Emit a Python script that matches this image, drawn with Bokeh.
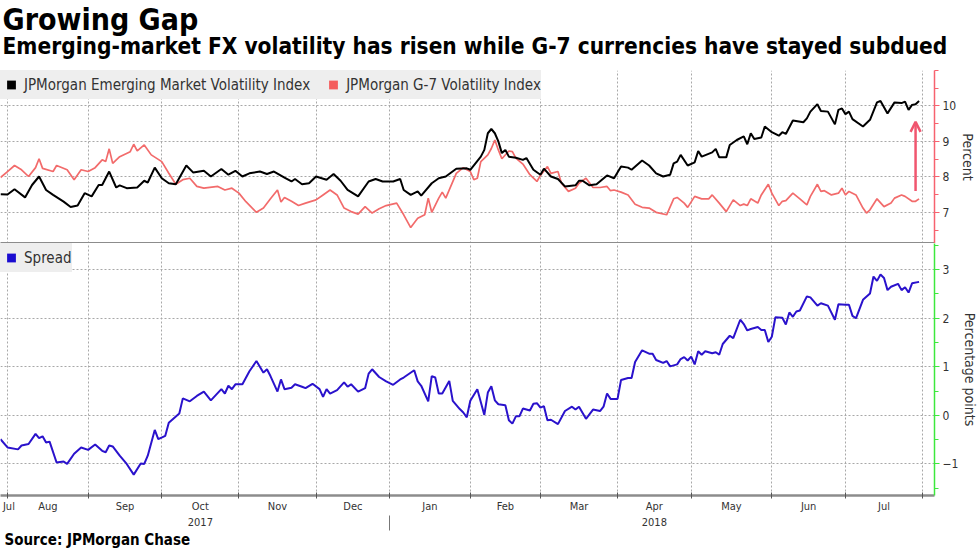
import numpy as np
import pandas as pd
from bokeh.plotting import figure
from bokeh.models import (Range1d, FixedTicker, LinearAxis, Legend, LegendItem, Title,
                          Arrow, OpenHead)
from bokeh.layouts import column
from bokeh.embed import file_html
from bokeh.resources import INLINE

# ---------------- data (x = business-day number counted from 2017-07-28) ----------------
EM_DAY = [0, 2, 4, 7, 9, 11, 13, 15, 18, 20, 22, 24, 26, 28, 29, 31, 33, 34, 36, 39, 41, 42, 44, 46, 48,
          50, 53, 55, 58, 60, 63, 65, 67, 69, 71, 74, 76, 78, 81, 83, 84, 86, 88, 90, 93, 95, 97, 99, 102,
          105, 107, 109, 112, 114, 115, 117, 119, 120, 123, 125, 127, 130, 133, 134, 137, 138, 139, 140,
          141, 142, 143, 144, 145, 147, 149, 150, 152, 154, 155, 157, 159, 161, 164, 165, 166, 168, 170,
          173, 175, 177, 179, 180, 183, 185, 187, 189, 191, 192, 193, 194, 196, 198, 199, 200, 203, 204,
          205, 207, 208, 210, 212, 213, 214, 215, 217, 218, 220, 222, 223, 224, 226, 229, 230, 231, 233,
          234, 236, 238, 239, 240, 241, 242, 243, 246, 248, 250, 251, 253, 255, 257, 258, 259, 260, 261, 262]
EM = [7.51, 7.50, 7.65, 7.42, 7.77, 8.01, 7.63, 7.49, 7.30, 7.15, 7.19, 7.54, 7.45, 7.77, 7.77, 8.15, 7.70,
      7.76, 7.68, 7.70, 7.89, 7.84, 8.26, 7.96, 7.82, 7.79, 8.32, 8.12, 8.17, 8.01, 8.22, 8.06, 8.17, 8.01,
      8.10, 8.15, 8.08, 8.15, 7.98, 7.87, 7.94, 7.79, 7.82, 8.01, 7.92, 8.08, 7.89, 7.63, 7.45, 7.87, 7.94,
      7.87, 7.87, 7.94, 7.63, 7.49, 7.59, 7.47, 7.82, 7.96, 8.01, 8.23, 8.24, 8.20, 8.57, 8.76, 9.23, 9.35,
      9.23, 9.00, 8.67, 8.76, 8.57, 8.54, 8.48, 8.53, 8.20, 8.06, 8.23, 8.01, 7.94, 7.73, 7.76, 7.89, 7.89,
      7.76, 7.79, 8.04, 7.96, 8.29, 8.26, 8.20, 8.46, 8.32, 8.10, 8.01, 8.06, 8.38, 8.43, 8.62, 8.32, 8.41,
      8.73, 8.57, 8.69, 8.79, 8.55, 8.55, 8.90, 9.04, 9.14, 8.92, 9.23, 9.07, 9.11, 9.42, 9.26, 9.16, 9.26,
      9.21, 9.59, 9.54, 9.65, 9.84, 10.05, 9.86, 9.84, 9.48, 9.89, 9.93, 9.77, 9.84, 9.63, 9.42, 9.61,
      10.10, 10.14, 9.79, 10.10, 10.08, 10.12, 9.89, 10.03, 10.05, 10.14]

G7_DAY = [0, 2, 4, 6, 8, 10, 11, 12, 15, 16, 19, 21, 23, 25, 27, 29, 30, 31, 32, 34, 37, 38, 39, 41, 43, 46,
          48, 50, 52, 54, 56, 58, 62, 64, 66, 68, 70, 73, 75, 77, 79, 80, 81, 83, 85, 87, 90, 92, 94, 96,
          98, 100, 102, 104, 106, 108, 110, 113, 115, 117, 119, 121, 122, 123, 125, 126, 127, 130, 132,
          134, 135, 136, 137, 139, 140, 141, 142, 143, 145, 146, 147, 149, 151, 153, 154, 156, 157, 159,
          160, 162, 164, 165, 167, 169, 171, 173, 174, 175, 177, 179, 181, 183, 185, 187, 190, 192, 193,
          195, 196, 198, 200, 202, 203, 205, 207, 209, 211, 212, 213, 214, 216, 217, 219, 220, 222, 223,
          224, 226, 228, 230, 231, 233, 234, 235, 237, 239, 240, 241, 242, 244, 246, 247, 248, 250, 252,
          254, 255, 257, 258, 260, 261, 262]
G7 = [7.98, 8.15, 8.32, 8.20, 8.01, 8.26, 8.51, 8.24, 8.15, 8.32, 8.20, 7.92, 8.20, 8.15, 8.26, 8.48, 8.43,
      8.79, 8.38, 8.57, 8.71, 8.92, 8.73, 8.90, 8.62, 8.43, 8.10, 7.79, 7.92, 7.96, 7.73, 7.68, 7.73, 7.63,
      7.68, 7.54, 7.30, 7.00, 7.12, 7.38, 7.63, 7.29, 7.42, 7.31, 7.19, 7.26, 7.35, 7.49, 7.63, 7.49, 7.12,
      7.02, 6.95, 7.16, 6.98, 7.10, 7.19, 7.26, 6.93, 6.57, 6.83, 6.93, 7.40, 7.00, 7.40, 7.57, 7.40, 8.10,
      8.26, 8.15, 7.92, 7.96, 8.43, 8.62, 8.80, 9.04, 8.76, 8.51, 8.73, 8.71, 8.53, 8.36, 8.06, 7.87, 8.04,
      8.29, 8.10, 8.15, 7.82, 7.59, 7.68, 7.82, 7.96, 7.70, 7.70, 7.73, 7.61, 7.63, 7.57, 7.49, 7.23, 7.14,
      7.12, 7.00, 6.93, 7.38, 7.42, 7.26, 7.14, 7.45, 7.38, 7.38, 7.49, 7.26, 7.02, 7.35, 7.19, 7.23, 7.19,
      7.38, 7.26, 7.49, 7.79, 7.54, 7.19, 7.31, 7.33, 7.54, 7.38, 7.21, 7.45, 7.79, 7.59, 7.61, 7.49, 7.54,
      7.68, 7.49, 7.59, 7.49, 7.12, 6.98, 7.07, 7.38, 7.16, 7.26, 7.40, 7.49, 7.45, 7.31, 7.31, 7.38]

SP_DAY = [0, 2, 5, 6, 8, 10, 11, 12, 13, 14, 16, 18, 19, 21, 23, 25, 27, 29, 30, 31, 32, 34, 36, 38, 40, 41,
          42, 44, 45, 47, 48, 51, 52, 54, 56, 58, 60, 63, 64, 65, 66, 67, 69, 71, 73, 75, 76, 77, 79, 80, 81,
          83, 84, 86, 87, 89, 91, 92, 93, 94, 96, 98, 99, 100, 102, 104, 105, 106, 108, 110, 112, 114, 115,
          118, 119, 120, 122, 123, 124, 125, 126, 128, 129, 131, 132, 133, 134, 136, 138, 139, 140, 141,
          142, 144, 145, 146, 147, 148, 149, 151, 152, 153, 154, 155, 156, 157, 159, 161, 163, 164, 165,
          167, 169, 171, 172, 173, 174, 176, 177, 179, 180, 181, 183, 185, 186, 187, 189, 190, 191, 193,
          194, 195, 196, 197, 198, 199, 200, 201, 203, 204, 205, 206, 208, 209, 211, 212, 213, 214, 216,
          217, 218, 219, 220, 221, 223, 224, 225, 226, 227, 228, 230, 231, 233, 234, 236, 238, 239, 241,
          242, 243, 244, 246, 248, 249, 250, 251, 252, 253, 254, 256, 257, 258, 259, 260, 262]
SPREAD = [-0.49, -0.66, -0.70, -0.62, -0.59, -0.38, -0.47, -0.43, -0.56, -0.54, -0.97, -0.95, -1.00, -0.79,
          -0.66, -0.71, -0.60, -0.73, -0.76, -0.62, -0.64, -0.83, -1.00, -1.22, -0.99, -1.00, -0.83, -0.30,
          -0.49, -0.42, -0.15, 0.04, 0.35, 0.29, 0.40, 0.49, 0.31, 0.54, 0.45, 0.61, 0.54, 0.64, 0.64, 0.91,
          1.12, 0.88, 0.95, 0.81, 0.49, 0.74, 0.54, 0.57, 0.64, 0.59, 0.56, 0.65, 0.54, 0.38, 0.54, 0.45,
          0.52, 0.68, 0.59, 0.64, 0.49, 0.56, 0.86, 0.95, 0.79, 0.70, 0.63, 0.74, 0.78, 0.93, 0.70, 0.61,
          0.29, 0.81, 0.78, 0.45, 0.45, 0.71, 0.30, 0.13, 0.06, -0.04, 0.30, 0.54, 0.01, 0.47, 0.60, 0.31,
          0.23, 0.21, -0.10, -0.17, -0.02, -0.02, 0.14, 0.10, 0.24, 0.25, 0.16, 0.19, -0.10, -0.09, -0.18,
          0.09, 0.18, 0.12, 0.18, -0.07, 0.12, 0.09, 0.18, 0.45, 0.34, 0.34, 0.73, 0.77, 0.77, 1.10, 1.34,
          1.27, 1.27, 1.14, 1.08, 1.12, 1.01, 1.05, 1.16, 1.20, 1.13, 1.21, 1.05, 1.32, 1.25, 1.32, 1.28,
          1.30, 1.25, 1.47, 1.64, 1.59, 1.97, 1.88, 1.75, 1.78, 1.82, 1.76, 1.76, 1.51, 1.62, 2.02, 2.01,
          1.87, 2.12, 2.03, 2.14, 2.16, 2.45, 2.43, 2.26, 2.31, 2.26, 1.97, 2.29, 2.28, 2.28, 2.05, 2.00,
          2.38, 2.51, 2.86, 2.77, 2.90, 2.83, 2.58, 2.65, 2.71, 2.58, 2.64, 2.53, 2.72, 2.75]

START_DATE = "2017-07-28"
MONTH_STARTS = ["2017-08-01", "2017-09-01", "2017-10-01", "2017-11-01", "2017-12-01", "2018-01-01",
                "2018-02-01", "2018-03-01", "2018-04-01", "2018-05-01", "2018-06-01", "2018-07-01",
                "2018-08-01"]
MONTH_LABELS = ["Aug", "Sep", "Oct", "Nov", "Dec", "Jan", "Feb", "Mar", "Apr", "May", "Jun", "Jul"]
FIRST_MONTH_LABEL = "Jul"
YEAR_LABELS = {"2017": 2, "2018": 8}   # year label under month index

ARROW_DAY = 261
ARROW_FROM = 7.6
ARROW_TO = 9.55

TITLE = "Growing Gap"
SUBTITLE = "Emerging-market FX volatility has risen while G-7 currencies have stayed subdued"
SOURCE = "Source: JPMorgan Chase"
EM_NAME = "JPMorgan Emerging Market Volatility Index"
G7_NAME = "JPMorgan G-7 Volatility Index"
SP_NAME = "Spread"

# ---------------- styling ----------------
FONT = "DejaVu Sans Condensed, DejaVu Sans"
TXT = "#333333"
GRID = "#a8a8a8"
EM_COLOR = "#000000"
G7_COLOR = "#f26b6b"
SP_COLOR = "#2a12cc"
TOP_AXIS = "#f7626f"
BOT_AXIS = "#3de83d"
ARROW_COLOR = "#f0566f"
SEP = "#8c8c8c"
NAN = [float("nan")]

BDAYS = pd.bdate_range(START_DATE, "2018-08-31")
def bday(d):
    return int(BDAYS.searchsorted(pd.Timestamp(d)))

starts = [bday(d) for d in MONTH_STARTS]
mids = [(a + b) / 2 for a, b in zip(starts[:-1], starts[1:])]

FW = 934
FH1 = 173
FH2 = 252
PX_PER_DAY = 3.506

x_range = Range1d(0, FW / PX_PER_DAY)


def style_common(p):
    p.outline_line_color = None
    p.background_fill_color = "white"
    p.border_fill_color = "white"
    p.xgrid.ticker = FixedTicker(ticks=starts)
    for g in (p.xgrid, p.ygrid):
        g.grid_line_color = GRID
        g.grid_line_dash = "2 2"
        g.grid_line_width = 1


def style_yaxis(ax, color, ticks, minor, label):
    ax.ticker = FixedTicker(ticks=ticks, minor_ticks=minor)
    ax.axis_line_color = color
    ax.axis_line_width = 1.5
    ax.major_tick_line_color = color
    ax.minor_tick_line_color = color
    ax.major_tick_in = 0
    ax.major_tick_out = 5
    ax.minor_tick_in = 0
    ax.minor_tick_out = 4
    ax.major_label_text_font = FONT
    ax.major_label_text_font_size = "12px"
    ax.major_label_text_color = TXT
    ax.major_label_standoff = 3
    ax.axis_label = label
    ax.axis_label_text_font = FONT
    ax.axis_label_text_font_size = "14px"
    ax.axis_label_text_font_style = "normal"
    ax.axis_label_text_color = TXT
    ax.axis_label_standoff = 1


def make_legend(items):
    return Legend(items=items, location="top_left", orientation="horizontal", margin=0,
                  padding=4, spacing=12, glyph_width=22, glyph_height=29, label_standoff=2,
                  label_height=29, label_text_font=FONT, label_text_font_size="15px",
                  label_text_color=TXT, background_fill_color="#eeeeee",
                  background_fill_alpha=1, border_line_color=None)


def legend_swatch(p, color):
    return p.scatter(NAN, NAN, marker="square", size=8, fill_color=color, line_color=None)


# ---------------- top panel ----------------
p1 = figure(frame_width=FW, frame_height=FH1, x_range=x_range, y_range=Range1d(6.12, 11.0),
            y_axis_location="right", output_backend="svg", toolbar_location=None,
            min_border_left=0, min_border_right=0, min_border_top=0, min_border_bottom=0)
style_common(p1)
style_yaxis(p1.yaxis[0], TOP_AXIS, [7, 8, 9, 10], [6.5, 7.5, 8.5, 9.5, 10.5, 11], "Percent")
xa = p1.xaxis[0]
xa.ticker = FixedTicker(ticks=[])
xa.major_label_text_font_size = "0px"
xa.major_tick_out = 0
xa.major_tick_in = 0
xa.minor_tick_out = 0
xa.minor_tick_in = 0
xa.major_label_standoff = 0
xa.axis_line_width = 3
xa.axis_line_color = SEP

p1.line(G7_DAY, G7, line_color=G7_COLOR, line_width=1.7)
p1.line(EM_DAY, EM, line_color=EM_COLOR, line_width=2)

d_em = legend_swatch(p1, EM_COLOR)
d_g7 = legend_swatch(p1, "#f45c5c")
p1.add_layout(make_legend([LegendItem(label=EM_NAME, renderers=[d_em]),
                           LegendItem(label=G7_NAME, renderers=[d_g7])]))

p1.add_layout(Arrow(end=OpenHead(size=10, line_color=ARROW_COLOR, line_width=2.5),
                    x_start=ARROW_DAY, y_start=ARROW_FROM, x_end=ARROW_DAY, y_end=ARROW_TO,
                    line_color=ARROW_COLOR, line_width=2.5))

# titles stack outward from the frame: spacer, subtitle, title
p1.add_layout(Title(text=" ", align="left", standoff=9, text_font=FONT,
                    text_font_size="4px"), "above")
p1.add_layout(Title(text=SUBTITLE, align="left", offset=2, standoff=-9, text_font=FONT,
                    text_font_size="22.5px", text_font_style="bold", text_color="black"), "above")
p1.add_layout(Title(text=TITLE, align="left", offset=2, standoff=-2, text_font=FONT,
                    text_font_size="30px", text_font_style="bold", text_color="black"), "above")

# ---------------- bottom panel ----------------
p2 = figure(frame_width=FW, frame_height=FH2, x_range=x_range, y_range=Range1d(-1.65, 3.54),
            y_axis_location="right", output_backend="svg", toolbar_location=None,
            min_border_left=0, min_border_right=0, min_border_top=0, min_border_bottom=0)
style_common(p2)
style_yaxis(p2.yaxis[0], BOT_AXIS, [-1, 0, 1, 2, 3], [-1.5, -0.5, 0.5, 1.5, 2.5, 3.5],
            "Percentage points")

month_ticks = [2.4] + mids
month_over = {2.4: FIRST_MONTH_LABEL}
for m, name in zip(mids, MONTH_LABELS):
    month_over[m] = name
mx = p2.xaxis[0]
mx.ticker = FixedTicker(ticks=month_ticks, minor_ticks=starts)
mx.major_label_overrides = month_over
mx.major_tick_line_color = None
mx.major_tick_out = 0
mx.major_tick_in = 0
mx.minor_tick_in = 3
mx.minor_tick_out = 3
mx.minor_tick_line_color = "#555555"
mx.axis_line_color = SEP
mx.axis_line_width = 2.5
mx.major_label_text_font = FONT
mx.major_label_text_font_size = "11px"
mx.major_label_text_color = TXT
mx.major_label_standoff = 1

yr_ticks = [mids[i] for i in YEAR_LABELS.values()]
yr_axis = LinearAxis(ticker=FixedTicker(ticks=yr_ticks, minor_ticks=[starts[5]]),
                     major_label_overrides={mids[i]: y for y, i in YEAR_LABELS.items()},
                     axis_line_color=None, major_tick_line_color=None, major_tick_out=0,
                     major_tick_in=0, minor_tick_in=0, minor_tick_out=15,
                     minor_tick_line_color="#777777", major_label_standoff=-13,
                     major_label_text_font=FONT, major_label_text_font_size="11px",
                     major_label_text_color=TXT)
p2.add_layout(yr_axis, "below")

p2.line(SP_DAY, SPREAD, line_color=SP_COLOR, line_width=2)
d_sp = legend_swatch(p2, "#1a0cd0")
p2.add_layout(make_legend([LegendItem(label=SP_NAME, renderers=[d_sp])]))

p2.add_layout(Title(text=SOURCE, align="left", offset=4, standoff=0, text_font=FONT,
                    text_font_size="15px", text_font_style="bold", text_color="black"), "below")

layout = column(p1, p2, spacing=0)
open("out.html", "w").write(file_html(layout, INLINE))
